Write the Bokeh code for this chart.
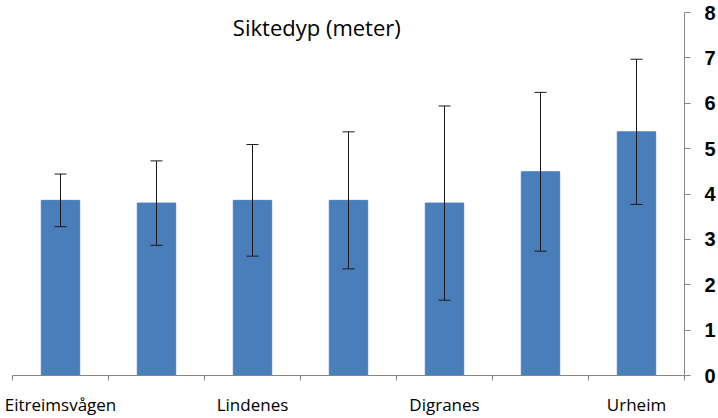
from bokeh.plotting import figure
from bokeh.models import Range1d, FixedTicker, LinearAxis, Whisker, TeeHead, ColumnDataSource, Label
from bokeh.embed import file_html
from bokeh.resources import INLINE

# Data
sites = ["Eitreimsvågen", "", "Lindenes", "", "Digranes", "", "Urheim"]
mean_depth = [3.86, 3.80, 3.86, 3.86, 3.80, 4.49, 5.37]
sd_depth = [0.58, 0.93, 1.23, 1.51, 2.14, 1.75, 1.60]
y_ticks = [0, 1, 2, 3, 4, 5, 6, 7, 8]
title_text = "Siktedyp (meter)"

n = len(sites)
xc = [i + 0.5 for i in range(n)]
src = ColumnDataSource(dict(
    x=xc, top=mean_depth,
    upper=[m + s for m, s in zip(mean_depth, sd_depth)],
    lower=[m - s for m, s in zip(mean_depth, sd_depth)],
))

p = figure(width=718, height=418, output_backend="svg", toolbar_location=None,
           x_range=Range1d(0, n), y_range=Range1d(0, 8),
           x_axis_location=None, y_axis_location=None,
           min_border_left=12, min_border_right=33, min_border_top=12, min_border_bottom=40)
p.outline_line_color = None
p.xgrid.visible = False
p.ygrid.visible = False
p.background_fill_color = "white"
p.border_fill_color = "white"

p.vbar(x="x", top="top", width=0.4, bottom=0, source=src,
       fill_color="#4A7EBB", line_color="#4A7EBB")

w = Whisker(base="x", upper="upper", lower="lower", source=src,
            line_color="#1a1a1a", line_width=1, level="overlay",
            upper_head=TeeHead(size=12, line_color="#1a1a1a", line_width=1),
            lower_head=TeeHead(size=12, line_color="#1a1a1a", line_width=1))
p.add_layout(w)

# x axis: labels at category centres, tick marks at category boundaries
label_pos = [xc[i] for i in range(n) if sites[i]]
xaxis = LinearAxis(ticker=FixedTicker(ticks=label_pos, minor_ticks=list(range(n + 1))))
xaxis.major_label_overrides = {xc[i]: sites[i] for i in range(n) if sites[i]}
xaxis.major_tick_out = 0
xaxis.major_tick_in = 0
xaxis.minor_tick_out = 5
xaxis.minor_tick_in = 0
xaxis.minor_tick_line_color = "#868686"
xaxis.axis_line_color = "#868686"
xaxis.major_label_text_font = "Open Sans"
xaxis.major_label_text_font_size = "17px"
xaxis.major_label_text_line_height = 1.0
xaxis.major_label_text_color = "#000000"
xaxis.major_label_standoff = 12
p.add_layout(xaxis, "below")

yaxis = LinearAxis(ticker=FixedTicker(ticks=y_ticks, minor_ticks=[]))
yaxis.major_tick_out = 6
yaxis.major_tick_in = 0
yaxis.major_tick_line_color = "#868686"
yaxis.axis_line_color = "#868686"
yaxis.major_label_text_font = "Liberation Sans"
yaxis.major_label_text_font_style = "bold"
yaxis.major_label_text_font_size = "20px"
yaxis.major_label_text_color = "#000000"
yaxis.major_label_standoff = 14
p.add_layout(yaxis, "right")

title = Label(x=3.17, y=7.68, text=title_text, text_align="center",
              text_baseline="alphabetic", text_font="Open Sans",
              text_font_size="22px", text_color="#000000")
p.add_layout(title)

open("out.html", "w").write(file_html(p, INLINE))
